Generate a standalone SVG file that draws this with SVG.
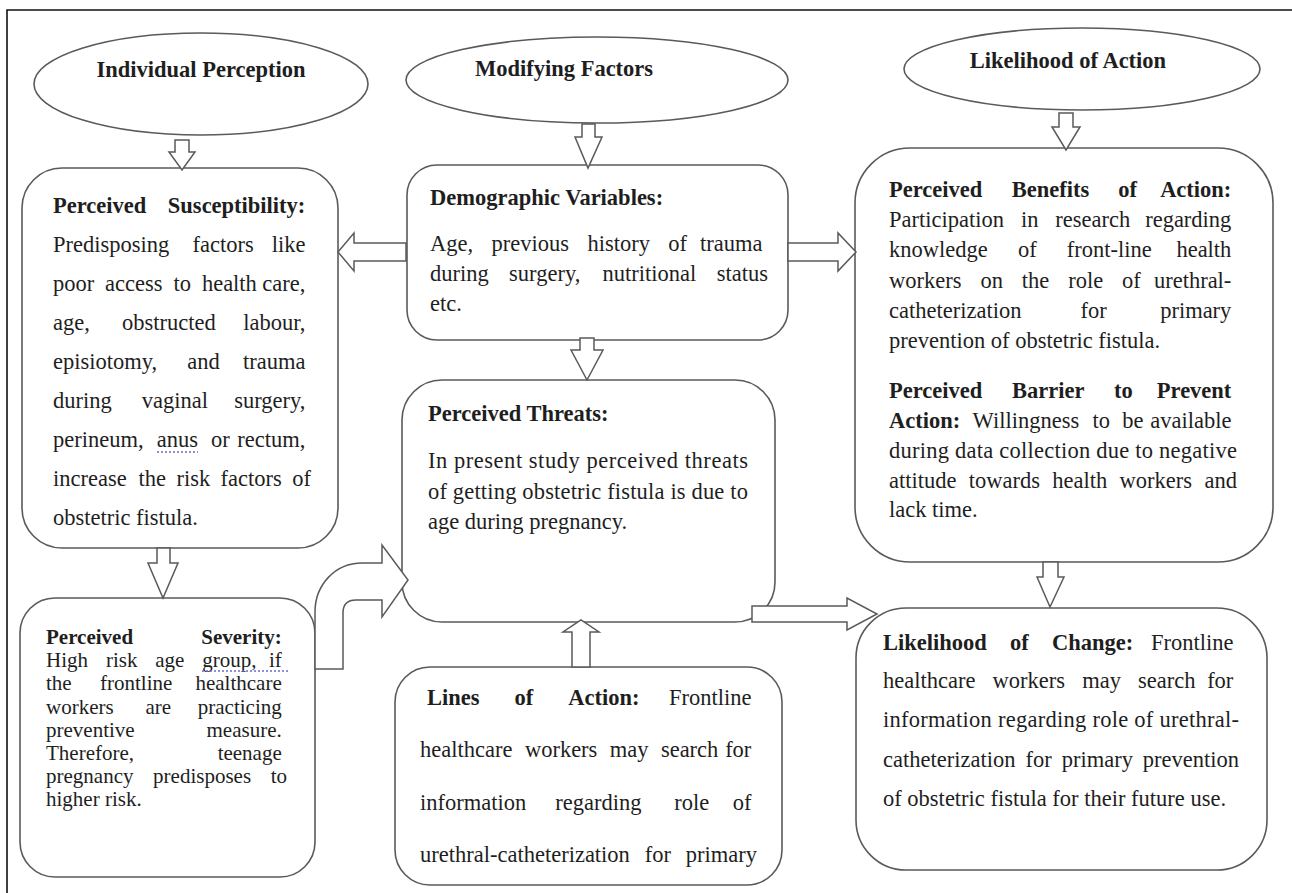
<svg xmlns="http://www.w3.org/2000/svg" width="1292" height="893" viewBox="0 0 1292 893">
<style>
.shape{fill:#fff;stroke:#5a5a5a;stroke-width:1.6}
.arrow{fill:#fff;stroke:#5a5a5a;stroke-width:1.5;stroke-linejoin:miter}
.t{font-family:"Liberation Serif","Times New Roman",serif;font-size:22.5px;fill:#1e1e1e}
.e{text-anchor:end}
.b{font-weight:bold}
.sp{fill:none;stroke:#6a6ad0;stroke-width:1.3;stroke-dasharray:2 2}
</style>
<rect width="1292" height="893" fill="#fff"/>
<path d="M7,893 L7,10 L1292,10" fill="none" stroke="#111" stroke-width="1.6"/>

<g id="individual-perception">
<ellipse class="shape" cx="201" cy="84" rx="167" ry="51"/>
<text class="t b" x="201" y="77" text-anchor="middle">Individual Perception</text>
</g>

<g id="modifying-factors">
<ellipse class="shape" cx="597" cy="80" rx="191" ry="43"/>
<text class="t b" x="475" y="76">Modifying Factors</text>
</g>

<g id="likelihood-of-action">
<ellipse class="shape" cx="1082" cy="69" rx="178" ry="41"/>
<text class="t b" x="1068" y="68" text-anchor="middle">Likelihood of Action</text>
</g>

<g id="perceived-susceptibility">
<rect class="shape" x="22" y="168" width="316" height="380" rx="40"/>
<text class="t">
<tspan class="b" x="53" y="213">Perceived</tspan>
<tspan x="53" y="252">Predisposing</tspan><tspan x="192.6" y="252">factors</tspan>
<tspan x="53" y="291">poor</tspan><tspan x="105.1" y="291">access</tspan><tspan x="173.5" y="291">to</tspan><tspan x="201.9" y="291">health</tspan>
<tspan x="53" y="330">age,</tspan><tspan x="122.1" y="330">obstructed</tspan>
<tspan x="53" y="369">episiotomy,</tspan><tspan x="187.3" y="369">and</tspan>
<tspan x="53" y="408">during</tspan><tspan x="141.7" y="408">vaginal</tspan>
<tspan x="53" y="447">perineum,</tspan><tspan x="156.7" y="447">anus</tspan><tspan x="211" y="447">or</tspan>
<tspan x="53" y="486">increase</tspan><tspan x="138.5" y="486">the</tspan><tspan x="176.4" y="486">risk</tspan><tspan x="220.6" y="486">factors</tspan>
<tspan x="53" y="525">obstetric fistula.</tspan>
</text>
<text class="t e">
<tspan class="b" x="311" y="213">Susceptibility:</tspan>
<tspan x="311" y="252">like</tspan>
<tspan x="311" y="291">care,</tspan>
<tspan x="311" y="330">labour,</tspan>
<tspan x="311" y="369">trauma</tspan>
<tspan x="311" y="408">surgery,</tspan>
<tspan x="311" y="447">rectum,</tspan>
<tspan x="311" y="486">of</tspan>
</text>
<path class="sp" d="M157,452 L198,452"/>
</g>

<g id="demographic-variables">
<rect class="shape" x="407" y="165" width="381" height="175" rx="30"/>
<text class="t">
<tspan class="b" x="430" y="205">Demographic Variables:</tspan>
<tspan x="430" y="251">Age,</tspan><tspan x="491.5" y="251">previous</tspan><tspan x="587.4" y="251">history</tspan><tspan x="668.3" y="251">of</tspan>
<tspan x="430" y="281">during</tspan><tspan x="509.1" y="281">surgery,</tspan><tspan x="602.6" y="281">nutritional</tspan>
<tspan x="430" y="311">etc.</tspan>
</text>
<text class="t e">
<tspan x="768" y="251">trauma</tspan>
<tspan x="768" y="281">status</tspan>
</text>
</g>

<g id="perceived-threats">
<rect class="shape" x="402" y="380" width="373" height="242" rx="40"/>
<text class="t b" x="428" y="421">Perceived Threats:</text>
<text class="t" x="428" y="468" textLength="320" lengthAdjust="spacing">In present study perceived threats</text>
<text class="t" x="428" y="499" textLength="320" lengthAdjust="spacing">of getting obstetric fistula is due to</text>
<text class="t" x="428" y="529">age during pregnancy.</text>
</g>

<g id="perceived-benefits">
<rect class="shape" x="855" y="148" width="418" height="414" rx="55"/>
<text class="t">
<tspan class="b" x="889" y="197">Perceived</tspan><tspan class="b" x="1011.7" y="197">Benefits</tspan><tspan class="b" x="1118.2" y="197">of</tspan>
<tspan x="889" y="227">Participation</tspan><tspan x="1020.9" y="227">in</tspan><tspan x="1055.3" y="227">research</tspan>
<tspan x="889" y="257">knowledge</tspan><tspan x="1017.9" y="257">of</tspan><tspan x="1066.8" y="257">front-line</tspan>
<tspan x="889" y="288">workers</tspan><tspan x="980.4" y="288">on</tspan><tspan x="1021.8" y="288">the</tspan><tspan x="1068.2" y="288">role</tspan><tspan x="1122.1" y="288">of</tspan>
<tspan x="889" y="318">catheterization</tspan><tspan x="1080.5" y="318">for</tspan>
<tspan x="889" y="348">prevention of obstetric fistula.</tspan>
<tspan class="b" x="889" y="398">Perceived</tspan><tspan class="b" x="1012.1" y="398">Barrier</tspan><tspan class="b" x="1114" y="398">to</tspan>
<tspan class="b" x="889" y="428">Action:</tspan><tspan x="972.6" y="428">Willingness</tspan><tspan x="1092.4" y="428">to</tspan><tspan x="1122.3" y="428">be</tspan>
<tspan x="889" y="488">attitude</tspan><tspan x="968.8" y="488">towards</tspan><tspan x="1052.3" y="488">health</tspan><tspan x="1119.6" y="488">workers</tspan>
<tspan x="889" y="517">lack time.</tspan>
</text>
<text class="t" x="889" y="458" textLength="348" lengthAdjust="spacing">during data collection due to negative</text>
<text class="t e">
<tspan class="b" x="1237" y="197">Action:</tspan>
<tspan x="1237" y="227">regarding</tspan>
<tspan x="1237" y="257">health</tspan>
<tspan x="1237" y="288">urethral-</tspan>
<tspan x="1237" y="318">primary</tspan>
<tspan class="b" x="1237" y="398">Prevent</tspan>
<tspan x="1237" y="428">available</tspan>
<tspan x="1237" y="488">and</tspan>
</text>
</g>

<g id="likelihood-of-change">
<rect class="shape" x="856" y="608" width="411" height="262" rx="50"/>
<text class="t">
<tspan class="b" x="883" y="650">Likelihood</tspan><tspan class="b" x="1010.1" y="650">of</tspan><tspan class="b" x="1052.1" y="650">Change:</tspan>
<tspan x="883" y="688">healthcare</tspan><tspan x="992.6" y="688">workers</tspan><tspan x="1082.3" y="688">may</tspan><tspan x="1138.1" y="688">search</tspan>
<tspan x="883" y="767">catheterization</tspan><tspan x="1025.5" y="767">for</tspan><tspan x="1061.7" y="767">primary</tspan>
<tspan x="883" y="806">of obstetric fistula for their future use.</tspan>
</text>
<text class="t" x="883" y="727" textLength="356" lengthAdjust="spacing">information regarding role of urethral-</text>
<text class="t e">
<tspan x="1239" y="650">Frontline</tspan>
<tspan x="1239" y="688">for</tspan>
<tspan x="1239" y="767">prevention</tspan>
</text>
</g>

<g id="lines-of-action">
<rect class="shape" x="395" y="667" width="387" height="218" rx="35"/>
<text class="t">
<tspan class="b" x="427" y="705">Lines</tspan><tspan class="b" x="514.5" y="705">of</tspan><tspan class="b" x="568.2" y="705">Action:</tspan>
<tspan x="420" y="757">healthcare</tspan><tspan x="524.9" y="757">workers</tspan><tspan x="609.8" y="757">may</tspan><tspan x="660.9" y="757">search</tspan>
<tspan x="420" y="810">information</tspan><tspan x="555.2" y="810">regarding</tspan><tspan x="674.2" y="810">role</tspan>
<tspan x="420" y="862">urethral-catheterization</tspan><tspan x="644.8" y="862">for</tspan>
</text>
<text class="t e">
<tspan x="757" y="705">Frontline</tspan>
<tspan x="757" y="757">for</tspan>
<tspan x="757" y="810">of</tspan>
<tspan x="757" y="862">primary</tspan>
</text>
</g>

<g id="perceived-severity">
<rect class="shape" x="20" y="598" width="295" height="279" rx="35"/>
<text class="t" style="font-size:21px">
<tspan class="b" x="46" y="644">Perceived</tspan>
<tspan x="46" y="667">High</tspan><tspan x="105.9" y="667">risk</tspan><tspan x="155.2" y="667">age</tspan><tspan x="202.2" y="667">group,</tspan>
<tspan x="46" y="690">the</tspan><tspan x="100" y="690">frontline</tspan>
<tspan x="46" y="714">workers</tspan><tspan x="145.5" y="714">are</tspan>
<tspan x="46" y="737">preventive</tspan>
<tspan x="46" y="760">Therefore,</tspan>
<tspan x="46" y="783">pregnancy</tspan><tspan x="153.1" y="783">predisposes</tspan>
<tspan x="46" y="806">higher risk.</tspan>
</text>
<text class="t e" style="font-size:21px">
<tspan class="b" x="287" y="644">Severity:</tspan>
<tspan x="287" y="667">if</tspan>
<tspan x="287" y="690">healthcare</tspan>
<tspan x="287" y="714">practicing</tspan>
<tspan x="287" y="737">measure.</tspan>
<tspan x="287" y="760">teenage</tspan>
<tspan x="287" y="783">to</tspan>
</text>
<path class="sp" d="M202,671 L288,671"/>
</g>

<g id="connectors">
<polygon class="arrow" points="175,140 189,140 189,152 195,152 182,170 169,152 175,152"/>
<polygon class="arrow" points="582,124 595,124 595,137 602,137 588,168 575,137 582,137"/>
<polygon class="arrow" points="1059,113 1073,113 1073,127 1080,127 1066,150 1052,127 1059,127"/>
<polygon class="arrow" points="406,243 354,243 354,233 338,252 354,271 354,261 406,261"/>
<polygon class="arrow" points="788,243 838,243 838,233 856,252 838,271 838,261 788,261"/>
<polygon class="arrow" points="580,338 594,338 594,350 603,350 587,380 571,350 580,350"/>
<polygon class="arrow" points="572,667 590,667 590,632 599,632 581,620 563,632 572,632"/>
<polygon class="arrow" points="157,548 170,548 170,563 178,563 163,598 148,563 157,563"/>
<polygon class="arrow" points="1043,562 1058,562 1058,577 1064,577 1050,607 1037,577 1043,577"/>
<polygon class="arrow" points="752,606 847,606 847,598 877,614 847,630 847,622 752,622"/>
<path class="arrow" d="M315,669 L315,612 C315,585 335,563 362,563 L382,563 L382,545 L408,580 L382,617 L382,600 L356,600 Q343,600 343,613 L343,669 Z"/>
</g>
</svg>
